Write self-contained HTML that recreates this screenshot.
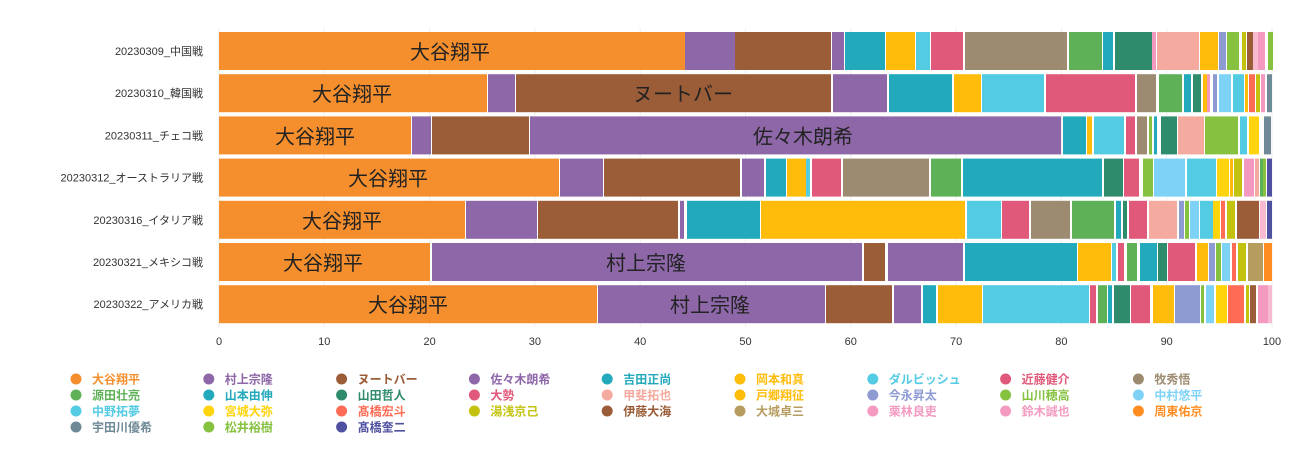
<!DOCTYPE html>
<html><head><meta charset="utf-8"><style>
html,body{margin:0;padding:0;background:#fff;width:1309px;height:450px;overflow:hidden}
svg{display:block;font-family:"Liberation Sans","Noto Sans CJK JP",sans-serif}
</style></head><body>
<svg id="s" width="1309" height="450" xmlns="http://www.w3.org/2000/svg"></svg>
<script>
const C={O:"#F58F2E",P:"#8E67A8",B:"#9B5D38",T:"#22A9BB",Y:"#FFBC0A",C:"#52CBE3",R:"#E1597A",G:"#9C8B70",GR:"#5FB158",DT:"#2E8B6C",PK:"#F4AA9E",LB:"#8E9BD3",LG:"#87C140",SK:"#7ED2F5",YL:"#FFD40C",RD:"#FF6B55",OL:"#C3C30F",KH:"#B79C60",PI:"#F49AC0",LP:"#F7BACF",OR:"#FF8C21",SG:"#6F8A96",NV:"#5050A0"};
const rows=[
["20230309_中国戦",[[219,684,"O"],[685,734,"P"],[735,830,"B"],[832,843,"P"],[845,884,"T"],[886,914,"Y"],[916,929,"C"],[931,962,"R"],[965,1066,"G"],[1069,1101,"GR"],[1103,1112,"T"],[1115,1151,"DT"],[1152,1155,"PI"],[1157,1198,"PK"],[1200,1217,"Y"],[1219,1225,"LB"],[1227,1238,"LG"],[1242,1245,"OL"],[1247,1252,"B"],[1253,1257,"LP"],[1258,1264,"PI"],[1268,1272,"LG"]],[["大谷翔平",450]]],
["20230310_韓国戦",[[219,486,"O"],[488,514,"P"],[516,830,"B"],[833,886,"P"],[889,951,"T"],[954,980,"Y"],[982,1043,"C"],[1046,1134,"R"],[1137,1155,"G"],[1159,1181,"GR"],[1184,1190,"T"],[1193,1200,"DT"],[1203,1206,"Y"],[1207,1209,"PI"],[1213,1216,"LB"],[1219,1230,"SK"],[1233,1243,"C"],[1245,1247,"Y"],[1249,1254,"RD"],[1256,1259,"OL"],[1261,1264,"PI"],[1267,1271,"SG"]],[["大谷翔平",352],["ヌートバー",683]]],
["20230311_チェコ戦",[[219,410,"O"],[412,430,"P"],[432,528,"B"],[530,1060,"P"],[1063,1085,"T"],[1087,1091,"Y"],[1094,1123,"C"],[1126,1134,"R"],[1137,1146,"G"],[1149,1151,"LG"],[1154,1156,"T"],[1161,1176,"DT"],[1178,1203,"PK"],[1205,1237,"LG"],[1240,1246,"C"],[1249,1258,"YL"],[1264,1270,"SG"]],[["大谷翔平",315],["佐々木朗希",803]]],
["20230312_オーストラリア戦",[[219,558,"O"],[560,602,"P"],[604,739,"B"],[742,763,"P"],[766,785,"T"],[787,805,"Y"],[806,809,"C"],[812,840,"R"],[843,928,"G"],[931,960,"GR"],[963,1101,"T"],[1104,1122,"DT"],[1124,1138,"R"],[1143,1152,"LG"],[1154,1184,"SK"],[1187,1215,"C"],[1217,1228,"YL"],[1230,1232,"Y"],[1234,1241,"OL"],[1244,1253,"PI"],[1255,1258,"PK"],[1260,1262,"GR"],[1263,1265,"LG"],[1267,1271,"NV"]],[["大谷翔平",388]]],
["20230316_イタリア戦",[[219,464,"O"],[466,536,"P"],[538,677,"B"],[680,683,"P"],[687,759,"T"],[761,964,"Y"],[967,1000,"C"],[1002,1028,"R"],[1031,1069,"G"],[1072,1113,"GR"],[1116,1120,"T"],[1123,1126,"DT"],[1129,1146,"R"],[1149,1176,"PK"],[1179,1183,"LB"],[1185,1188,"LG"],[1190,1198,"SK"],[1200,1212,"C"],[1213,1219,"YL"],[1221,1224,"RD"],[1227,1234,"OL"],[1237,1258,"B"],[1260,1265,"LP"],[1267,1271,"NV"]],[["大谷翔平",342]]],
["20230321_メキシコ戦",[[219,429,"O"],[432,861,"P"],[864,884,"B"],[888,962,"P"],[965,1076,"T"],[1078,1110,"Y"],[1112,1115,"C"],[1118,1123,"R"],[1127,1136,"GR"],[1140,1156,"T"],[1158,1166,"DT"],[1168,1194,"R"],[1197,1207,"Y"],[1209,1214,"LB"],[1216,1220,"LG"],[1222,1229,"SK"],[1232,1235,"RD"],[1238,1245,"OL"],[1248,1262,"KH"],[1264,1271,"OR"]],[["大谷翔平",323],["村上宗隆",646]]],
["20230322_アメリカ戦",[[219,596,"O"],[598,824,"P"],[826,891,"B"],[894,920,"P"],[923,935,"T"],[938,981,"Y"],[983,1088,"C"],[1090,1095,"R"],[1098,1106,"GR"],[1108,1111,"T"],[1114,1129,"DT"],[1131,1149,"R"],[1153,1173,"Y"],[1175,1199,"LB"],[1201,1203,"LG"],[1206,1213,"SK"],[1216,1226,"YL"],[1228,1243,"RD"],[1246,1248,"OL"],[1250,1255,"B"],[1258,1267,"PI"],[1268,1271,"LP"]],[["大谷翔平",408],["村上宗隆",710]]]
];
let h="";
for(let i=0;i<=10;i++){const x=219+i*105.3;h+=`<line x1="${x}" y1="28" x2="${x}" y2="327" stroke="#eee" stroke-width="1"/><text x="${x}" y="345" font-size="11" fill="#333" text-anchor="middle">${i*10}</text>`;}
rows.forEach((r,i)=>{const y=32+i*42.2;
 h+=`<text x="203" y="${y+23}" font-size="11" fill="#333" text-anchor="end">${r[0]}</text>`;
 r[1].forEach(s=>{h+=`<rect x="${s[0]}" y="${y}" width="${s[1]-s[0]+1}" height="38" fill="${C[s[2]]}"/>`;});
 r[2].forEach(t=>{h+=`<text x="${t[1]}" y="${y+27}" font-size="20" fill="#222" text-anchor="middle">${t[0]}</text>`;});
});
const L=[["大谷翔平","O"],["村上宗隆","P"],["ヌートバー","B"],["佐々木朗希","P"],["吉田正尚","T"],["岡本和真","Y"],["ダルビッシュ","C"],["近藤健介","R"],["牧秀悟","G"],
["源田壮亮","GR"],["山本由伸","T"],["山田哲人","DT"],["大勢","R"],["甲斐拓也","PK"],["戸郷翔征","Y"],["今永昇太","LB"],["山川穂高","LG"],["中村悠平","SK"],
["中野拓夢","C"],["宮城大弥","YL"],["髙橋宏斗","RD"],["湯浅京己","OL"],["伊藤大海","B"],["大城卓三","KH"],["栗林良吏","PI"],["鈴木誠也","PI"],["周東佑京","OR"],
["宇田川優希","SG"],["松井裕樹","LG"],["髙橋奎二","NV"]];
L.forEach((l,k)=>{const c=k%9,r=Math.floor(k/9);const x=76+c*132.8,y=379+r*16;const col=C[l[1]];
 h+=`<circle cx="${x}" cy="${y}" r="5.5" fill="${col}"/><text x="${x+16}" y="${y+4.5}" font-size="12" font-weight="bold" fill="${col}">${l[0]}</text>`;});
document.getElementById("s").innerHTML=h;
</script>
</body></html>
